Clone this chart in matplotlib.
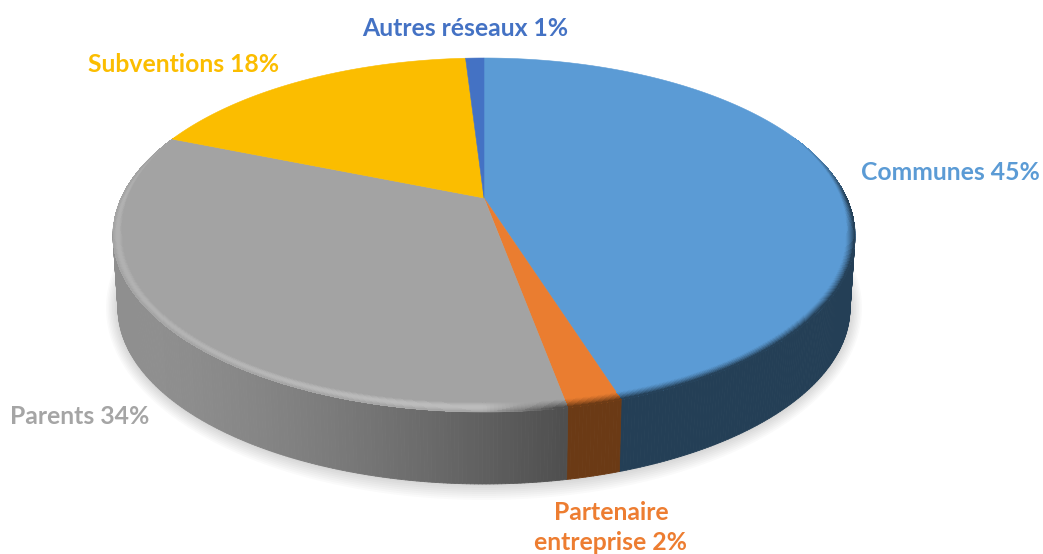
import numpy as np
import matplotlib
matplotlib.use("Agg")
import matplotlib.pyplot as plt
from matplotlib.collections import PolyCollection
from matplotlib.colors import to_rgb

# ---- data (clockwise from the top of the pie) ----
categories = ["Communes", "Partenaire\nentreprise", "Parents", "Subventions", "Autres réseaux"]
values = [45, 2, 34, 18, 1]
face_colors = ["#5b9bd5", "#ea7d30", "#a3a3a3", "#fbbd00", "#4472c4"]
text_colors = ["#5b9bd5", "#ed7d31", "#a5a5a5", "#fbbd00", "#4472c4"]
side_left = ["#243f56", "#6b3a15", "#8f8f8f", "#8f8f8f", "#243f56"]
side_right = ["#243f56", "#6b3a15", "#4f4f4f", "#4f4f4f", "#243f56"]
label_xy = [(950, 172.5), (611, 527.5), (79.5, 416.5), (184, 64.5), (465, 28.5)]

CX, APEX_Y = 484.0, 198.0
RX, RY, CY = 371.0, 177.0, 235.0
BRX, BRY, BCY = 366.0, 176.0, 308.0

fig = plt.figure(figsize=(10.43, 5.54), dpi=100)
ax = fig.add_axes([0, 0, 1, 1])
ax.set_xlim(0, 1043)
ax.set_ylim(554, 0)
ax.axis("off")


def rim_point(theta):
    """Where a ray from the apex, at pie angle theta, meets the top ellipse."""
    dx = np.sin(theta) * RX
    dy = -np.cos(theta) * RY
    oy = APEX_Y - CY
    a = (dx / RX) ** 2 + (dy / RY) ** 2
    b = 2 * oy * dy / RY ** 2
    c = (oy / RY) ** 2 - 1
    s = (-b + np.sqrt(b * b - 4 * a * c)) / (2 * a)
    return CX + s * dx, APEX_Y + s * dy


def mix(c1, c2, a):
    return tuple(np.array(c1) * (1 - a) + np.array(c2) * a)


# soft shadow under the drum
tt = np.linspace(-0.35, np.pi + 0.35, 240)
for k in np.arange(16, 0, -2):
    ax.fill(CX + (BRX + k * 0.75) * np.cos(tt), BCY + (BRY + k) * np.sin(tt),
            color="#000000", alpha=0.018, lw=0, zorder=1)

fractions = np.array(values) / sum(values)
edges = np.r_[0, np.cumsum(fractions)] * 2 * np.pi

side_polys, side_cols = [], []
top_polys, top_cols = [], []
bevel_polys, bevel_cols = [], []
RINGS = 10

for i in range(len(values)):
    n = max(8, int(np.degrees(edges[i + 1] - edges[i])) * 2)
    th = np.linspace(edges[i], edges[i + 1], n + 1)
    x, y = rim_point(th)
    face = to_rgb(face_colors[i])

    # outer wall
    bx = CX + (x - CX) * BRX / RX
    by = BCY + (y - CY) * BRY / RY
    for j in range(n):
        if y[j] < CY - 6 and y[j + 1] < CY - 6:
            continue
        side_polys.append([(x[j], y[j]), (x[j + 1], y[j + 1]), (bx[j + 1], by[j + 1]), (bx[j], by[j])])
        u = np.clip((x[j] - 150) / (565 - 150), 0, 1) ** 1.4
        side_cols.append(mix(to_rgb(side_left[i]), to_rgb(side_right[i]), u))

    # flat top
    top_polys.append(np.c_[np.r_[CX, x], np.r_[APEX_Y, y]])
    top_cols.append(face)

    # bevel along the rim: its strength fades out towards the back of the pie
    f = (y - CY) / RY
    strength = np.clip((f + 0.55) / 0.55, 0, 1)
    thick = strength * 9.0
    rad = np.hypot(x - CX, y - CY)
    for r in range(RINGS):
        r0, r1 = r / RINGS, (r + 1) / RINGS
        s0 = 1 - thick * (1 - r0) / rad
        s1 = 1 - thick * (1 - r1) / rad
        x0, y0 = CX + (x - CX) * s0, CY + (y - CY) * s0
        x1, y1 = CX + (x - CX) * s1, CY + (y - CY) * s1
        rm = (r0 + r1) / 2
        for j in range(n):
            if thick[j] <= 0 and thick[j + 1] <= 0:
                continue
            bevel_polys.append([(x0[j], y0[j]), (x0[j + 1], y0[j + 1]), (x1[j + 1], y1[j + 1]), (x1[j], y1[j])])
            u = (x[j] - 113) / 742
            dark = np.clip((u - 0.5) / 0.1, 0, 1)
            amt = min(1.0, strength[j] * 1.6)
            light = mix(face, (1, 1, 1), amt * 0.28 * np.sin(np.pi * rm) * (0.55 + 0.45 * np.clip(u / 0.4, 0, 1)))
            shade = mix(face, tuple(np.array(to_rgb(side_right[i])) * 0.95), amt * rm ** 1.3)
            bevel_cols.append(mix(light, shade, dark))

ax.add_collection(PolyCollection(side_polys, facecolors=side_cols, edgecolors=side_cols, linewidths=0.6, zorder=2))
ax.add_collection(PolyCollection(top_polys, facecolors=top_cols, edgecolors=top_cols, linewidths=0.4, zorder=3))
ax.add_collection(PolyCollection(bevel_polys, facecolors=bevel_cols, edgecolors="none", linewidths=0, antialiased=False, zorder=4))

# labels
for name, val, col, (lx, ly) in zip(categories, values, text_colors, label_xy):
    ax.text(lx, ly, f"{name} {val}%", color=col, family="Lato", weight="bold",
            fontsize=17.8, ha="center", va="center", linespacing=1.4, zorder=6)

fig.savefig("out.png", dpi=100, facecolor="white")
